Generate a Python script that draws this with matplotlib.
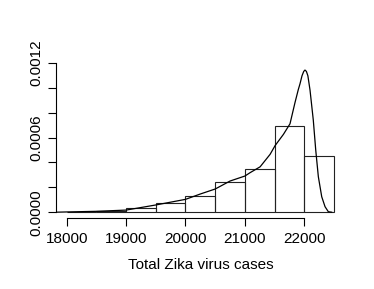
import numpy as np
import matplotlib as mpl
mpl.use('Agg')
import matplotlib.pyplot as plt

plt.rcParams['font.family'] = ['Liberation Sans', 'DejaVu Sans']

# histogram (density scale), bin width 500
bin_left = [18000, 18500, 19000, 19500, 20000, 20500, 21000, 21500, 22000]
bin_density = [0.000004, 0.000012, 0.000032, 0.000072, 0.000133,
               0.000241, 0.000347, 0.000692, 0.000452]

# kernel density estimate
kde_x = [17820, 18000, 18500, 19000, 19500, 20000, 20250, 20500, 20750,
         21000, 21087, 21256, 21424, 21508, 21648, 21759, 21843, 21899,
         21927, 21961, 21990, 22011, 22035, 22060, 22096, 22151, 22192,
         22236, 22293, 22349, 22404, 22460]
kde_y = [0.000001, 0.000003, 0.000008, 0.000018, 0.000059, 0.000104, 0.000147,
         0.000187, 0.000251, 0.000291, 0.000318, 0.000365, 0.000465, 0.000535,
         0.000625, 0.000710, 0.000880, 0.000985, 0.001030, 0.001095, 0.001130,
         0.001141, 0.001130, 0.001095, 0.000980, 0.000740, 0.000500, 0.000286,
         0.000125, 0.000045, 0.000005, 0.000001]

fig = plt.figure(figsize=(3.74, 2.89), dpi=100)
ax = fig.add_axes([0.1497, 0.2446, 0.9217 - 0.1497, 0.8038 - 0.2446])

ax.bar(bin_left, bin_density, width=500, align='edge', fill=False,
       edgecolor='#222222', linewidth=0.8)
ax.plot(kde_x, kde_y, color='black', linewidth=0.9)

ax.set_xlim(17820, 22680)
ax.set_ylim(-0.000048, 0.001248)

for s in ['top', 'right']:
    ax.spines[s].set_visible(False)
ax.spines['left'].set_bounds(0, 0.0012)
ax.spines['bottom'].set_bounds(18000, 22000)
for s in ['left', 'bottom']:
    ax.spines[s].set_linewidth(0.8)

ax.set_xticks([18000, 19000, 20000, 21000, 22000])
ax.set_xticklabels(['18000', '19000', '20000', '21000', '22000'])
yt = np.arange(7) * 0.0002
ax.set_yticks(yt)
ax.set_yticklabels(['0.0000', '', '', '0.0006', '', '', '0.0012'],
                   rotation=90, va='center')
ax.tick_params(axis='both', length=5.5, width=0.8, labelsize=11)
ax.tick_params(axis='x', pad=4)
ax.tick_params(axis='y', pad=3.5)

ax.set_xlabel('Total Zika virus cases', fontsize=11, labelpad=9)

fig.savefig('out.png', dpi=100)
